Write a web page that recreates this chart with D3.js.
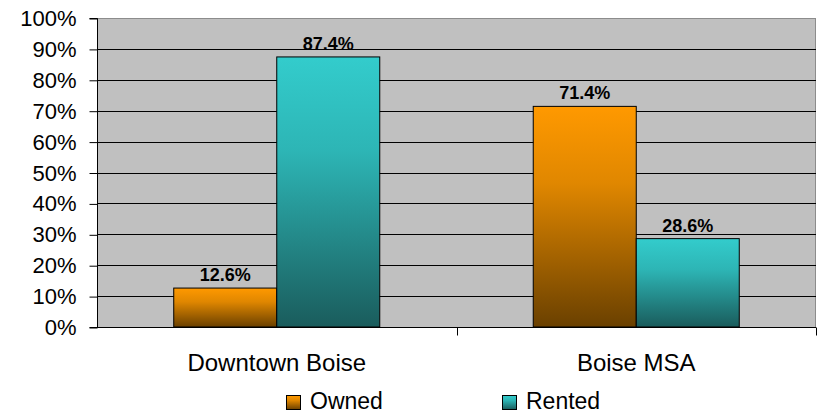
<!DOCTYPE html>
<html><head><meta charset="utf-8">
<script src="https://cdn.jsdelivr.net/npm/d3@7"></script>
<style>body{margin:0;background:#fff}svg{display:block}</style>
</head><body><svg id="c" width="817" height="415"></svg>
<script>
const categories = ["Downtown Boise", "Boise MSA"];
const seriesNames = ["Owned", "Rented"];
const owned = [12.6, 71.4];
const rented = [87.4, 28.6];
const yTicks = [0,10,20,30,40,50,60,70,80,90,100];

const FONT = "Liberation Sans, Arial, sans-serif";
const svg = d3.select("#c");
const m = {l:97, r:1, t:18, b:88};
const W = 817, H = 415;
const x = d3.scaleBand().domain(categories).range([m.l, W-m.r]).paddingInner(0).paddingOuter(0);
const xs = d3.scaleBand().domain(seriesNames).range([0, x.bandwidth()]).paddingInner(0).paddingOuter(0.745);
const y = d3.scaleLinear().domain([0,100]).range([H-m.b, m.t]);

const defs = svg.append("defs");
const grads = {Owned:["#FF9900","#E08700","#6A4000"], Rented:["#33CCCC","#2DB5B5","#1A5C5C"]};
Object.entries(grads).forEach(([k,[a,mid,b]])=>{
  const g = defs.append("linearGradient").attr("id","g"+k).attr("x1",0).attr("y1",0).attr("x2",0).attr("y2",1);
  g.append("stop").attr("offset","0%").attr("stop-color",a);
  g.append("stop").attr("offset","35%").attr("stop-color",mid);
  g.append("stop").attr("offset","100%").attr("stop-color",b);
});

// plot background
svg.append("rect").attr("x",m.l+0.5).attr("y",m.t+0.5).attr("width",W-m.r-m.l-1).attr("height",y(0)-m.t)
  .attr("fill","#C0C0C0").attr("stroke","#8C8C8C").attr("stroke-width",1);

// gridlines
svg.append("g").selectAll("line").data(yTicks.filter(d=>d>0 && d<100)).join("line")
  .attr("x1",m.l).attr("x2",W-m.r).attr("y1",d=>Math.round(y(d))+0.5).attr("y2",d=>Math.round(y(d))+0.5)
  .attr("stroke","#000").attr("stroke-width",1);

// y axis
const ya = d3.axisLeft(y).tickValues(yTicks).tickFormat(d=>d+"%").tickSize(8).tickPadding(13);
const gy = svg.append("g").attr("transform",`translate(${m.l+0.5},0.5)`).call(ya);
gy.selectAll("text").attr("font-family",FONT).attr("font-size",22).attr("fill","#000");
gy.selectAll("line").attr("stroke","#000");
gy.select(".domain").attr("stroke","#000").attr("d",`M-8,${y(100)}H0V${y(0)}H-8`);

// x axis
const xa = d3.axisBottom(x).tickSize(0).tickPadding(26);
const gx = svg.append("g").attr("transform",`translate(0,${Math.round(y(0))+0.5})`).call(xa);
gx.select(".domain").attr("stroke","#000").attr("d",`M${m.l},0H${W-m.r}`);
gx.selectAll("text").attr("font-family",FONT).attr("font-size",24).attr("fill","#000");
// category boundary ticks
gx.append("g").selectAll("line").data([x(categories[1]), W-m.r-0.5]).join("line")
  .attr("x1",d=>Math.round(d)+0.5).attr("x2",d=>Math.round(d)+0.5).attr("y1",0).attr("y2",8).attr("stroke","#000");

// bars
const data = [];
categories.forEach((c,i)=>{ data.push({c,s:"Owned",v:owned[i]}); data.push({c,s:"Rented",v:rented[i]}); });
svg.append("g").selectAll("rect").data(data).join("rect")
  .attr("x",d=>x(d.c)+xs(d.s)).attr("width",xs.bandwidth())
  .attr("y",d=>y(d.v)).attr("height",d=>y(0)-y(d.v))
  .attr("fill",d=>`url(#g${d.s})`).attr("stroke","#000").attr("stroke-width",1);

svg.append("g").selectAll("text").data(data).join("text")
  .attr("x",d=>x(d.c)+xs(d.s)+xs.bandwidth()/2).attr("y",d=>y(d.v)-7)
  .attr("text-anchor","middle").attr("font-family",FONT)
  .attr("font-size",18).attr("font-weight","bold").attr("fill","#000").text(d=>d.v.toFixed(1)+"%");

// legend
const lg = svg.append("g");
const lx = [286, 502];
seriesNames.forEach((s,i)=>{
  lg.append("rect").attr("x",lx[i]+0.5).attr("y",395.5).attr("width",14).attr("height",14)
    .attr("fill",`url(#g${s})`).attr("stroke","#000");
  lg.append("text").attr("x",lx[i]+24).attr("y",409).attr("font-family",FONT)
    .attr("font-size",23).attr("fill","#000").text(s);
});
</script></body></html>
